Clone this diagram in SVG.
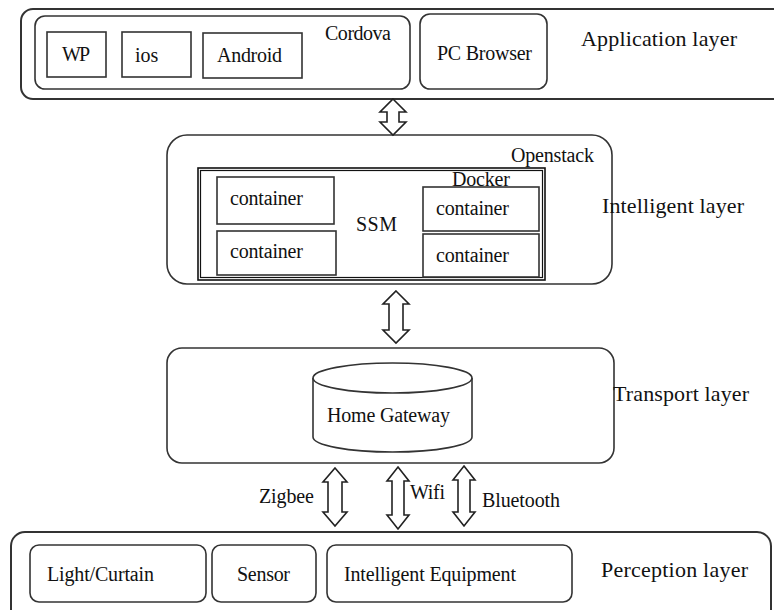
<svg xmlns="http://www.w3.org/2000/svg" width="774" height="610" viewBox="0 0 774 610">
<style>
.box{fill:#fff;stroke:#333;stroke-width:1.6}
.outer{fill:#fff;stroke:#333;stroke-width:2}
.arr{fill:#fff;stroke:#222;stroke-width:1.6;stroke-linejoin:miter}
text{font-family:"Liberation Serif","Times New Roman",serif;font-size:20px;fill:#111}
.lay{font-size:22px}
</style>
<rect width="774" height="610" fill="#fff"/>
<g id="application-layer">
<rect class="outer" x="21" y="9" width="780" height="90" rx="12"/>
<text class="lay" x="581" y="46" textLength="156">Application layer</text>
</g>
<g id="cordova">
<rect class="box" x="35" y="16" width="375" height="73" rx="10"/>
<text x="325" y="40" textLength="66">Cordova</text>
</g>
<g id="wp"><rect class="box" x="47" y="32" width="59" height="45"/><text x="62" y="61" textLength="28">WP</text></g>
<g id="ios"><rect class="box" x="122" y="32" width="69" height="45"/><text x="135" y="62">ios</text></g>
<g id="android"><rect class="box" x="203" y="33" width="99" height="45"/><text x="217" y="62" textLength="65">Android</text></g>
<g id="pc-browser"><rect class="box" x="420" y="14" width="127" height="75" rx="10"/><text x="437" y="60" textLength="95">PC Browser</text></g>

<g id="intelligent-layer">
<rect class="box" x="167" y="135" width="445" height="149" rx="20"/>
<text x="511" y="162" textLength="83">Openstack</text>
<text class="lay" x="602" y="213" textLength="142">Intelligent layer</text>
</g>
<g id="docker">
<rect x="198" y="168" width="347" height="112" fill="#fff" stroke="#111" stroke-width="1.6"/>
<rect x="200.5" y="170.5" width="342" height="107" fill="none" stroke="#111" stroke-width="1.2"/>
<text x="452" y="186" textLength="58">Docker</text>
<text x="356" y="231" textLength="41">SSM</text>
</g>
<g id="container1"><rect class="box" x="217" y="177" width="117" height="47"/><text x="230" y="205" textLength="73">container</text></g>
<g id="container2"><rect class="box" x="217" y="231" width="119" height="44"/><text x="230" y="258" textLength="73">container</text></g>
<g id="container3"><rect class="box" x="423" y="187" width="116" height="44"/><text x="436" y="215" textLength="73">container</text></g>
<g id="container4"><rect class="box" x="423" y="234" width="116" height="43"/><text x="436" y="262" textLength="73">container</text></g>

<g id="transport-layer">
<rect class="box" x="167" y="348" width="447" height="115" rx="15"/>
<text class="lay" x="613" y="401" textLength="136">Transport layer</text>
</g>
<g id="home-gateway">
<path class="box" d="M313,378 L313,437 A79.5,15 0 0 0 472,437 L472,378"/>
<ellipse class="box" cx="392.5" cy="378" rx="79.5" ry="15"/>
<text x="327" y="422" textLength="123">Home Gateway</text>
</g>

<g id="perception-layer">
<rect class="outer" x="11" y="532" width="760" height="100" rx="14"/>
<text class="lay" x="601" y="577" textLength="147">Perception layer</text>
</g>
<g id="light-curtain"><rect class="box" x="30" y="545" width="176" height="57" rx="9"/><text x="47" y="581" textLength="107">Light/Curtain</text></g>
<g id="sensor"><rect class="box" x="212" y="545" width="104" height="57" rx="9"/><text x="237" y="581" textLength="53">Sensor</text></g>
<g id="intelligent-equipment"><rect class="box" x="327" y="545" width="245" height="57" rx="9"/><text x="344" y="581" textLength="172">Intelligent Equipment</text></g>

<g id="connectors">
<path class="arr" d="M393,99 L406,112 L399,112 L399,122 L406,122 L393,135 L380,122 L387,122 L387,112 L380,112 Z"/>
<path class="arr" d="M396,291 L409,304 L403,304 L403,330 L409,330 L396,343 L383,330 L389,330 L389,304 L383,304 Z"/>
<path class="arr" d="M335,468 L347,482 L342,482 L342,512 L347,512 L335,526 L323,512 L328,512 L328,482 L323,482 Z"/>
<path class="arr" d="M398,467 L409,481 L404,481 L404,515 L409,515 L398,529 L387,515 L392,515 L392,481 L387,481 Z"/>
<path class="arr" d="M464,466 L475,480 L470,480 L470,512 L475,512 L464,526 L453,512 L458,512 L458,480 L453,480 Z"/>
<text x="259" y="503" textLength="55">Zigbee</text>
<text x="410" y="499" textLength="35">Wifi</text>
<text x="482" y="507" textLength="78">Bluetooth</text>
</g>
</svg>
